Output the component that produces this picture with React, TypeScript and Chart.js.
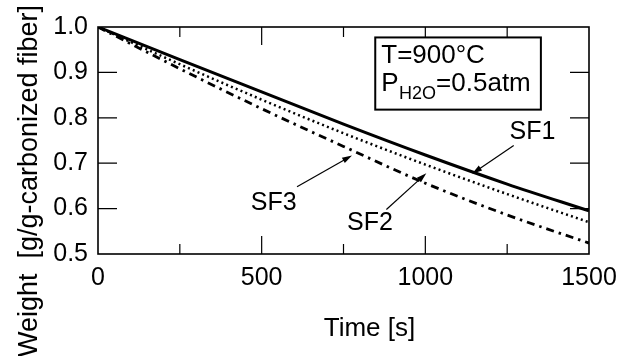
import { useEffect, useRef } from "react";
import { Chart, registerables } from "chart.js";
Chart.register(...registerables);

const FONT = "'Liberation Sans', Arial, Helvetica, sans-serif";

// Data
const times = [0, 250, 500, 750, 1000, 1250, 1500];
const sf1 = [1.0, 0.928, 0.857, 0.786, 0.718, 0.654, 0.595];
const sf2 = [1.0, 0.918, 0.840, 0.766, 0.697, 0.632, 0.570];
const sf3 = [1.0, 0.908, 0.820, 0.737, 0.656, 0.586, 0.524];
const seriesNames = ["SF1", "SF2", "SF3"];

const xMajorTicks = [0, 500, 1000, 1500];
const xMinorTicks = [250, 750, 1250];
const yMajorTicks = [0.5, 0.6, 0.7, 0.8, 0.9, 1.0];

const xTitle = "Time [s]";
const yTitle = "Weight  [g/g-carbonized fiber]";
const condLine1 = "T=900°C";
const condP = "P";
const condSub = "H2O";
const condRest = "=0.5atm";

// annotation anchors in data units
const condBox = { x0: 847, x1: 1353, y0: 0.977, y1: 0.818 };
const seriesNotes = [
  { text: "SF1", x: 1257, y: 0.754, from: [1270, 0.739], to: [1143, 0.677] },
  { text: "SF2", x: 761, y: 0.552, from: [881, 0.598], to: [1003, 0.678] },
  { text: "SF3", x: 467, y: 0.598, from: [608, 0.648], to: [776, 0.717] },
];

function arrow(ctx: CanvasRenderingContext2D, x0: number, y0: number, x1: number, y1: number) {
  const ang = Math.atan2(y1 - y0, x1 - x0);
  const hl = 10, hw = 3;
  ctx.beginPath();
  ctx.moveTo(x0, y0);
  ctx.lineTo(x1 - Math.cos(ang) * hl * 0.8, y1 - Math.sin(ang) * hl * 0.8);
  ctx.stroke();
  ctx.beginPath();
  ctx.moveTo(x1, y1);
  ctx.lineTo(x1 - Math.cos(ang) * hl + Math.sin(ang) * hw, y1 - Math.sin(ang) * hl - Math.cos(ang) * hw);
  ctx.lineTo(x1 - Math.cos(ang) * hl - Math.sin(ang) * hw, y1 - Math.sin(ang) * hl + Math.cos(ang) * hw);
  ctx.closePath();
  ctx.fill();
}

const decor = {
  id: "decor",
  beforeDatasetsDraw(chart: any) {
    const { ctx, chartArea, scales } = chart;
    const { left, right, top, bottom } = chartArea;
    const xs = scales.x, ys = scales.y;
    ctx.save();
    ctx.strokeStyle = "#000";
    ctx.lineWidth = 1.2;
    for (const t of xMajorTicks) {
      if (t === xMajorTicks[0] || t === xMajorTicks[xMajorTicks.length - 1]) continue;
      const px = xs.getPixelForValue(t);
      ctx.beginPath();
      ctx.moveTo(px, bottom); ctx.lineTo(px, bottom - 18);
      ctx.moveTo(px, top); ctx.lineTo(px, top + 18);
      ctx.stroke();
    }
    for (const t of xMinorTicks) {
      const px = xs.getPixelForValue(t);
      ctx.beginPath();
      ctx.moveTo(px, bottom); ctx.lineTo(px, bottom - 10);
      ctx.moveTo(px, top); ctx.lineTo(px, top + 10);
      ctx.stroke();
    }
    for (const v of yMajorTicks) {
      if (v === yMajorTicks[0] || v === yMajorTicks[yMajorTicks.length - 1]) continue;
      const py = ys.getPixelForValue(v);
      ctx.beginPath();
      ctx.moveTo(left, py); ctx.lineTo(left + 19, py);
      ctx.moveTo(right, py); ctx.lineTo(right - 19, py);
      ctx.stroke();
    }
    ctx.lineWidth = 1.6;
    ctx.strokeRect(left, top, right - left, bottom - top);
    ctx.restore();
  },
  afterDraw(chart: any) {
    const { ctx, chartArea, scales } = chart;
    const xs = scales.x, ys = scales.y;
    ctx.save();
    ctx.fillStyle = "#000";
    ctx.strokeStyle = "#000";

    // condition box
    const bx0 = xs.getPixelForValue(condBox.x0);
    const bx1 = xs.getPixelForValue(condBox.x1);
    const by0 = ys.getPixelForValue(condBox.y0);
    const by1 = ys.getPixelForValue(condBox.y1);
    ctx.fillStyle = "#fff";
    ctx.fillRect(bx0, by0, bx1 - bx0, by1 - by0);
    ctx.lineWidth = 2;
    ctx.strokeRect(bx0, by0, bx1 - bx0, by1 - by0);
    ctx.fillStyle = "#000";
    ctx.textAlign = "left";
    ctx.textBaseline = "alphabetic";
    ctx.font = `26px ${FONT}`;
    ctx.fillText(condLine1, bx0 + 6, by0 + 26);
    let cx = bx0 + 6;
    ctx.fillText(condP, cx, by0 + 53.5);
    cx += ctx.measureText(condP).width + 0.5;
    ctx.font = `18px ${FONT}`;
    ctx.fillText(condSub, cx, by0 + 62);
    cx += ctx.measureText(condSub).width;
    ctx.font = `26px ${FONT}`;
    ctx.fillText(condRest, cx, by0 + 53.5);

    // series labels with arrows
    ctx.font = `25px ${FONT}`;
    ctx.lineWidth = 1.2;
    for (const n of seriesNotes) {
      ctx.fillText(n.text, xs.getPixelForValue(n.x), ys.getPixelForValue(n.y));
      arrow(ctx,
        xs.getPixelForValue(n.from[0]), ys.getPixelForValue(n.from[1]),
        xs.getPixelForValue(n.to[0]), ys.getPixelForValue(n.to[1]));
    }

    // axis titles
    ctx.font = `26px ${FONT}`;
    ctx.textAlign = "center";
    ctx.fillText(xTitle, (chartArea.left + chartArea.right) / 2 + 26, 335.5);
    ctx.translate(30, 181);
    ctx.rotate(-Math.PI / 2);
    ctx.font = `27px ${FONT}`;
    ctx.textBaseline = "middle";
    ctx.fillText(yTitle, 0, 0);
    ctx.restore();
  },
};

export default function App() {
  const ref = useRef<HTMLCanvasElement>(null);
  useEffect(() => {
    const mk = (vals: number[]) => times.map((t, i) => ({ x: t, y: vals[i] }));
    const chart = new Chart(ref.current!, {
      type: "line",
      data: {
        datasets: [
          { label: seriesNames[0], data: mk(sf1), borderColor: "#000", borderWidth: 3, borderDash: [], cubicInterpolationMode: "monotone", pointRadius: 0, fill: false },
          { label: seriesNames[1], data: mk(sf2), borderColor: "#000", borderWidth: 2.5, borderDash: [2, 3.2], cubicInterpolationMode: "monotone", pointRadius: 0, fill: false },
          { label: seriesNames[2], data: mk(sf3), borderColor: "#000", borderWidth: 2.8, borderDash: [8, 5, 2.5, 5], cubicInterpolationMode: "monotone", pointRadius: 0, fill: false },
        ],
      },
      options: {
        animation: false,
        responsive: false,
        devicePixelRatio: 1,
        layout: { padding: { top: 27, right: 40, left: 0, bottom: 0 } },
        plugins: { legend: { display: false }, tooltip: { enabled: false } },
        scales: {
          x: {
            type: "linear",
            min: 0,
            max: 1500,
            afterBuildTicks: (s: any) => { s.ticks = xMajorTicks.map((v) => ({ value: v })); },
            ticks: { font: { family: FONT, size: 25 }, color: "#000", padding: 9, maxRotation: 0, autoSkip: false, callback: (v: any) => String(v) },
            grid: { display: false, drawTicks: false },
            border: { display: false },
            afterFit: (s: any) => { s.height = 102; },
          },
          y: {
            type: "linear",
            min: 0.5,
            max: 1.0,
            afterBuildTicks: (s: any) => { s.ticks = yMajorTicks.map((v) => ({ value: v })); },
            ticks: { font: { family: FONT, size: 25 }, color: "#000", padding: 10, callback: (v: any) => Number(v).toFixed(1) },
            grid: { display: false, drawTicks: false },
            border: { display: false },
            afterFit: (s: any) => { s.width = 98; },
          },
        },
      },
      plugins: [decor],
    } as any);
    return () => chart.destroy();
  }, []);
  return (
    <div style={{ position: "absolute", left: 0, top: 0, width: 629, height: 356, background: "#fff" }}>
      <canvas ref={ref} width={629} height={356} style={{ display: "block", width: 629, height: 356 }} />
    </div>
  );
}
